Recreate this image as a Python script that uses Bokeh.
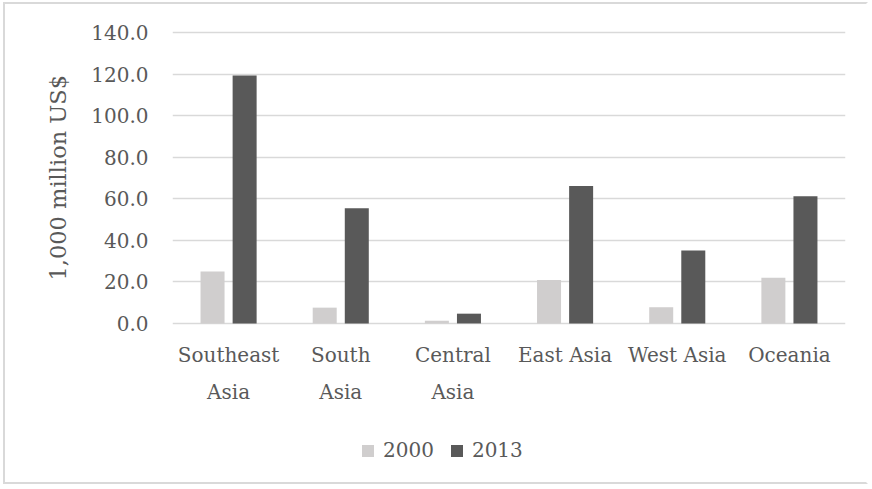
from bokeh.plotting import figure
from bokeh.models import (FixedTicker, PrintfTickFormatter, Legend, LegendItem, Range1d,
                          ColumnDataSource, Title)
from bokeh.core.properties import value
from bokeh.embed import file_html
from bokeh.resources import INLINE

# Investment by region, 1,000 million US$
categories = ["Southeast\nAsia", "South\nAsia", "Central\nAsia", "East Asia", "West Asia", "Oceania"]
series_names = ["2000", "2013"]
values_2000 = [25.0, 7.6, 1.3, 20.9, 7.8, 22.0]
values_2013 = [119.3, 55.4, 4.7, 66.2, 35.1, 61.2]
y_ticks = [0, 20, 40, 60, 80, 100, 120, 140]
y_title = "1,000 million US$"

FONT = "DejaVu Serif"
TEXT = "#595959"
GRID = "#d9d9d9"
LIGHT = "#d0cece"
DARK = "#595959"

# the plot area also holds the category names and the legend below the bars
p = figure(
    width=865, height=482,
    x_range=Range1d(0, len(categories)), y_range=Range1d(-78.5, 141.5),
    output_backend="svg", toolbar_location=None, x_axis_location=None,
    min_border_left=167, min_border_right=25, min_border_top=25, min_border_bottom=0,
)
# chart-area frame: open on the right-hand side
p.styles = {
    "margin-left": "3px",
    "margin-top": "2px",
    "border-style": "solid",
    "border-width": "2px",
    "border-color": f"{GRID} white {GRID} {GRID}",
    "outline": "none",
    "box-shadow": "none",
}
p.outline_line_color = None
p.background_fill_color = "white"
p.border_fill_color = "white"

# horizontal gridlines (the one at 0 doubles as the category axis line)
p.xgrid.visible = False
p.ygrid.ticker = FixedTicker(ticks=y_ticks)
p.ygrid.grid_line_color = GRID
p.ygrid.grid_line_width = 1.6

yax = p.yaxis[0]
yax.ticker = FixedTicker(ticks=y_ticks)
yax.formatter = PrintfTickFormatter(format="%.1f")
yax.axis_line_color = None
yax.major_tick_line_color = None
yax.minor_tick_line_color = None
yax.major_tick_out = 0
yax.major_tick_in = 0
yax.major_label_standoff = 24
yax.major_label_text_font = FONT
yax.major_label_text_font_size = "20px"
yax.major_label_text_color = TEXT

# value-axis title, placed along the 0-140 span rather than the whole plot area
p.add_layout(Title(text=y_title, align="left", offset=206, standoff=36,
                   text_font=FONT, text_font_size="22.5px", text_font_style="normal",
                   text_color=TEXT), "left")

# clustered bars
centers = [i + 0.5 for i in range(len(categories))]
bar_w = 0.214
offset = 0.143
r2000 = p.vbar(x=[c - offset for c in centers], top=values_2000, bottom=0, width=bar_w,
               fill_color=LIGHT, line_color=None)
r2013 = p.vbar(x=[c + offset for c in centers], top=values_2013, bottom=0, width=bar_w,
               fill_color=DARK, line_color=None)

# category names, wrapped onto rows below the baseline
row_y = [-15.3, -33.2]
lx, ly, lt = [], [], []
for c, name in zip(centers, categories):
    for line, y in zip(name.split("\n"), row_y):
        lx.append(c)
        ly.append(y)
        lt.append(line)
p.text(x="x", y="y", text="text", source=ColumnDataSource(dict(x=lx, y=ly, text=lt)),
       text_align="center", text_baseline="alphabetic",
       text_font=value(FONT), text_font_size=value("20px"), text_color=TEXT)

legend = Legend(
    items=[LegendItem(label=series_names[0], renderers=[r2000]),
           LegendItem(label=series_names[1], renderers=[r2013])],
    orientation="horizontal", location=(188, 24),
    label_text_font=FONT, label_text_font_size="20px", label_text_color=TEXT,
    glyph_width=15, glyph_height=15, label_standoff=8, spacing=15,
    padding=0, margin=0, border_line_color=None, background_fill_alpha=0,
)
p.add_layout(legend)

open("out.html", "w").write(file_html(p, INLINE))
